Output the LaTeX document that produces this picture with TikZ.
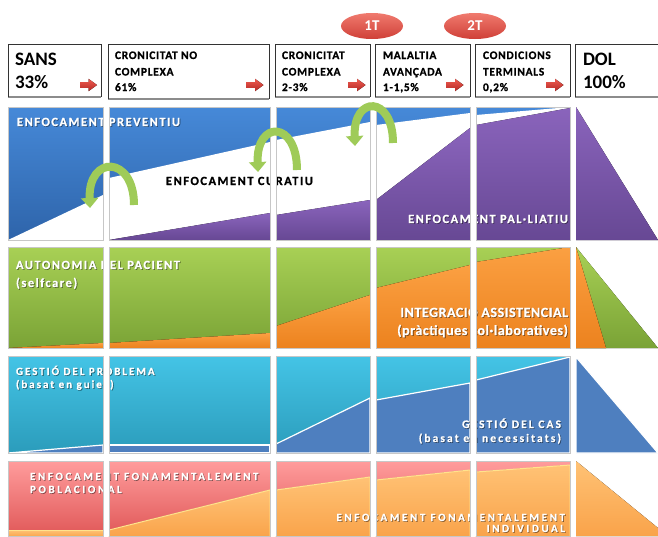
\documentclass[tikz,border=0pt]{standalone}
\usepackage{fontspec}
\setmainfont{Carlito}
\newfontfamily\hdfont{Carlito Bold}[LetterSpace=6, FakeBold=0.8]
\newfontfamily\lsA{Carlito Bold}[LetterSpace=12, FakeBold=0.8]
\newfontfamily\lsB{Carlito Bold}[LetterSpace=18, FakeBold=0.8]
\newfontfamily\lsC{Carlito Bold}[LetterSpace=24, FakeBold=0.8]
\newfontfamily\lsD{Carlito Bold}[LetterSpace=4, FakeBold=0.8]
\usetikzlibrary{arrows.meta,shapes.geometric}

\definecolor{blueT}{HTML}{4689D8}
\definecolor{blueB}{HTML}{2E64AA}
\definecolor{purT}{HTML}{8A64BC}
\definecolor{purB}{HTML}{674894}
\definecolor{grnT}{HTML}{A8D055}
\definecolor{grnB}{HTML}{7AA336}
\definecolor{orT}{HTML}{FBA042}
\definecolor{orB}{HTML}{EC821E}
\definecolor{cyT}{HTML}{44C4E6}
\definecolor{cyB}{HTML}{2B9CBB}
\definecolor{dblue}{HTML}{4E7FBF}
\definecolor{pkT}{HTML}{FF9C9C}
\definecolor{pkB}{HTML}{E05858}
\definecolor{loT}{HTML}{FFC275}
\definecolor{loB}{HTML}{F9A34A}
\definecolor{seam}{HTML}{FFE38C}
\definecolor{arrT}{HTML}{EE5A50}
\definecolor{arrB}{HTML}{B52A25}
\definecolor{elT}{HTML}{F07A6E}
\definecolor{elB}{HTML}{CF4038}
\definecolor{curv}{HTML}{9FCB58}

\tikzset{
  blueS/.style={top color=blueT, bottom color=blueB},
  purS/.style={top color=purT, bottom color=purB},
  grnS/.style={top color=grnT, bottom color=grnB},
  orS/.style={top color=orT, bottom color=orB},
  cyS/.style={top color=cyT, bottom color=cyB},
  pkS/.style={top color=pkT, bottom color=pkB},
  loS/.style={top color=loT, bottom color=loB},
  panel/.style={draw=black!22, line width=0.5pt},
  hdbox/.style={draw=black!80, line width=0.6pt},
  hdshadow/.style={draw=black!45, line width=1.4pt},
  txt/.style={inner sep=0pt, outer sep=0pt},
  wtxt/.style={txt, text=white},
  stxt/.style={txt, text=black, opacity=0.4, xshift=0.8pt, yshift=-0.8pt},
  hdtxt/.style={txt, anchor=base west, font=\hdfont\fontsize{11.5}{13}\selectfont},
  bigtxt/.style={txt, anchor=base west, font=\bfseries\fontsize{19}{22}\selectfont},
  tbadge/.style={ellipse, top color=elT, bottom color=elB, minimum width=62pt, minimum height=26pt,
    inner sep=0pt, text=white, font=\bfseries\fontsize{15}{17}\selectfont},
  uturn/.style={draw=curv, line width=8pt, -{Triangle[width=17pt,length=10pt]}},
  hdarrow/.pic={\fill[top color=arrT, bottom color=arrB] (-8.5,-2.8) -- (0,-2.8) -- (0,-6.2)
     -- (8.5,0) -- (0,6.2) -- (0,2.8) -- (-8.5,2.8) -- cycle;}
}

% white label with a soft dark shadow: name, position, anchor, font, text
\newcommand{\wlabel}[5]{%
  \node[stxt, anchor=#3, font=#4] at #2 {#5};
  \node[wtxt, anchor=#3, font=#4] (#1) at #2 {#5};}

\begin{document}
\begin{tikzpicture}[x=1pt, y=-1pt]
\useasboundingbox (0,0) rectangle (658,536);

% ---------- header boxes ----------
\foreach \a/\b/\c in {8/101/97, 108/269/99, 275/370/97, 375/470/97, 475/570/97}{
  \draw[hdshadow] (\a,\c) -- (\b,\c);
  \draw[hdbox] (\a,\c) -- (\a,44) -- (\b,44) -- (\b,\c);
}
\draw[hdshadow] (575,97) -- (658,97);
\draw[hdbox] (575,97) -- (575,44) -- (658,44);

\node[bigtxt] (sans) at (15,65) {SANS};
\node[bigtxt] (sansp) at (15,88) {33\%};
\node[hdtxt] (cnc1) at (115,59) {CRONICITAT NO};
\node[hdtxt] (cnc2) at (115,75.5) {COMPLEXA};
\node[hdtxt] (cnc3) at (115,91) {61\%};
\node[hdtxt] (cc1) at (282,59) {CRONICITAT};
\node[hdtxt] (cc2) at (282,75.5) {COMPLEXA};
\node[hdtxt] (cc3) at (282,91) {2-3\%};
\node[hdtxt] (ma1) at (383,59) {MALALTIA};
\node[hdtxt] (ma2) at (383,75.5) {AVANÇADA};
\node[hdtxt] (ma3) at (383,91) {1-1,5\%};
\node[hdtxt] (ct1) at (483,59) {CONDICIONS};
\node[hdtxt] (ct2) at (483,75.5) {TERMINALS};
\node[hdtxt] (ct3) at (483,91) {0,2\%};
\node[bigtxt] (dol) at (583,65) {DOL};
\node[bigtxt] (dolp) at (583,88) {100\%};

\foreach \x in {88.5, 255, 357, 455, 555}{ \pic at (\x,85) {hdarrow}; }

\node[tbadge] (t1) at (372,26) {1T};
\node[tbadge] (t2) at (475,26) {2T};

% ---------- row 1: preventive / curative / palliative ----------
\fill[blueS] (8,107) rectangle (103,240);
\fill[white] (8,240) -- (103,195) -- (103,240) -- cycle;
\fill[blueS] (109,107) rectangle (270,240);
\fill[white] (109,178) -- (270,142) -- (270,240) -- (109,240) -- cycle;
\fill[purS] (109,240) -- (270,213) -- (270,240) -- cycle;
\fill[blueS] (276,107) rectangle (370,240);
\fill[white] (276,140) -- (370,122) -- (370,240) -- (276,240) -- cycle;
\fill[purS] (276,215) -- (370,200) -- (370,240) -- (276,240) -- cycle;
\fill[blueS] (376,107) rectangle (470,240);
\fill[white] (376,125) -- (470,113) -- (470,240) -- (376,240) -- cycle;
\fill[purS] (376,200) -- (470,128) -- (470,240) -- (376,240) -- cycle;
\fill[blueS] (476,107) rectangle (570,240);
\fill[white] (476,115) -- (570,107) -- (570,240) -- (476,240) -- cycle;
\fill[purS] (476,125) -- (570,108) -- (570,240) -- (476,240) -- cycle;
\fill[purS] (576,107) -- (658,240) -- (576,240) -- cycle;

% ---------- row 2: self-care / integrated care ----------
\foreach \a/\b in {8/103, 109/270, 276/370, 376/470, 476/570}{
  \fill[grnS] (\a,247) rectangle (\b,348);
}
\fill[orS] (8,348) -- (103,343) -- (103,348) -- cycle;
\fill[orS] (109,343) -- (270,333) -- (270,348) -- (109,348) -- cycle;
\fill[orS] (276,326) -- (370,295) -- (370,348) -- (276,348) -- cycle;
\fill[orS] (376,288) -- (470,265) -- (470,348) -- (376,348) -- cycle;
\fill[orS] (476,262) -- (570,247) -- (570,348) -- (476,348) -- cycle;
\fill[grnS] (576,247) -- (658,348) -- (576,348) -- cycle;
\fill[orS] (576,247) -- (606,348) -- (576,348) -- cycle;

% ---------- row 3: problem management / case management ----------
\foreach \a/\b in {8/103, 109/270, 276/370, 376/470, 476/570}{
  \fill[cyS] (\a,356) rectangle (\b,453);
}
\filldraw[fill=dblue, draw=white, line width=1.2pt] (8,453) -- (103,445) -- (103,453) -- cycle;
\filldraw[fill=dblue, draw=white, line width=1.2pt] (109,445) rectangle (270,453);
\filldraw[fill=dblue, draw=white, line width=1.2pt] (276,444) -- (370,398) -- (370,453) -- (276,453) -- cycle;
\filldraw[fill=dblue, draw=white, line width=1.2pt] (376,400) -- (470,383) -- (470,453) -- (376,453) -- cycle;
\filldraw[fill=dblue, draw=white, line width=1.2pt] (476,380) -- (570,357) -- (570,453) -- (476,453) -- cycle;
\filldraw[fill=dblue, draw=white, line width=1.2pt] (576,357) -- (658,453) -- (576,453) -- cycle;

% ---------- row 4: population / individual ----------
\foreach \a/\b in {8/103, 109/270, 276/370, 376/470, 476/570}{
  \fill[pkS] (\a,461) rectangle (\b,536);
}
\filldraw[loS, draw=seam, line width=1pt] (8,530) rectangle (103,537);
\filldraw[loS, draw=seam, line width=1pt] (109,530) -- (270,490) -- (270,537) -- (109,537) -- cycle;
\filldraw[loS, draw=seam, line width=1pt] (276,490) -- (370,477) -- (370,537) -- (276,537) -- cycle;
\filldraw[loS, draw=seam, line width=1pt] (376,480) -- (470,470) -- (470,537) -- (376,537) -- cycle;
\filldraw[loS, draw=seam, line width=1pt] (476,472) -- (570,465) -- (570,537) -- (476,537) -- cycle;
\fill[loS] (576,461) -- (658,528) -- (658,536) -- (576,536) -- cycle;

% ---------- labels ----------
\wlabel{prev}{(17,126)}{base west}{\lsA\fontsize{12.5}{14}\selectfont}{ENFOCAMENT PREVENTIU}
\node[txt, anchor=base west, font=\lsA\fontsize{12.5}{14}\selectfont] (cur) at (166,185) {ENFOCAMENT CURATIU};
\wlabel{pal}{(568,223)}{base east}{\lsA\fontsize{12.5}{14}\selectfont}{ENFOCAMENT PAL·LIATIU}

\wlabel{aut1}{(16,269)}{base west}{\lsA\fontsize{12.5}{14}\selectfont}{AUTONOMIA DEL PACIENT}
\wlabel{aut2}{(16,287)}{base west}{\lsA\fontsize{12.5}{14}\selectfont}{(selfcare)}
\wlabel{int1}{(568,317)}{base east}{\lsD\fontsize{14}{16}\selectfont}{INTEGRACIÓ ASSISTENCIAL}
\wlabel{int2}{(568,335)}{base east}{\lsD\fontsize{14}{16}\selectfont}{(pràctiques col·laboratives)}

\wlabel{gp1}{(16,375)}{base west}{\lsB\fontsize{11}{13}\selectfont}{GESTIÓ DEL PROBLEMA}
\wlabel{gp2}{(16,388)}{base west}{\lsB\fontsize{11}{13}\selectfont}{(basat en guies)}
\wlabel{gc1}{(561,428)}{base east}{\lsB\fontsize{11.5}{13}\selectfont}{GESTIÓ DEL CAS}
\wlabel{gc2}{(561,442)}{base east}{\lsB\fontsize{11.5}{13}\selectfont}{(basat en necessitats)}

\wlabel{pob1}{(30,480)}{base west}{\lsC\fontsize{11}{13}\selectfont}{ENFOCAMENT FONAMENTALEMENT}
\wlabel{pob2}{(30,493)}{base west}{\lsC\fontsize{11}{13}\selectfont}{POBLACIONAL}
\wlabel{ind1}{(565,521)}{base east}{\lsC\fontsize{11}{13}\selectfont}{ENFOCAMENT FONAMENTALEMENT}
\wlabel{ind2}{(565,532)}{base east}{\lsC\fontsize{11}{13}\selectfont}{INDIVIDUAL}

% ---------- column gaps and panel frames ----------
\foreach \a/\b in {103/109, 270/276, 370/376, 470/476, 570/576}{
  \fill[white] (\a,105) rectangle (\b,536);
}
\foreach \ya/\yb in {107/240, 247/348, 356/453, 461/536}{
  \foreach \a/\b in {8/103, 109/270, 276/370, 376/470, 476/570}{
    \draw[panel] (\a,\ya) rectangle (\b,\yb);
  }
}

% ---------- transition arrows ----------
\draw[uturn] (134,205) .. controls (134,155) and (88,155) .. (90,208);
\draw[uturn] (297,170) .. controls (297,120) and (256,120) .. (258,172);
\draw[uturn] (393,143) .. controls (393,95) and (353,95) .. (355,146);

\end{tikzpicture}
\end{document}
